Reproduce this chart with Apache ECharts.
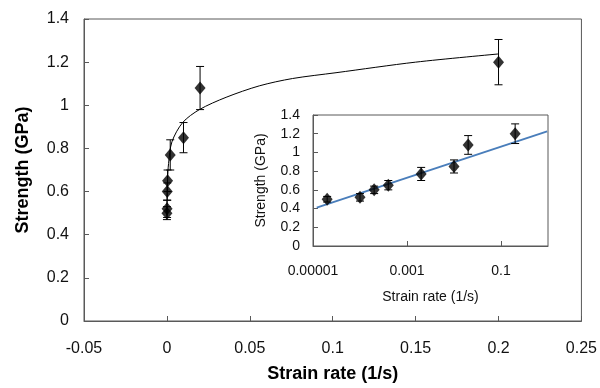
<!DOCTYPE html>
<html>
<head>
<meta charset="utf-8">
<script src="https://cdn.jsdelivr.net/npm/echarts@6/dist/echarts.min.js"></script>
<style>
  html, body { margin: 0; padding: 0; background: #fff; }
  #chart { width: 600px; height: 388px; }
</style>
</head>
<body>
<div id="chart"></div>
<script>
// measured points (strain rate in 1/s, strength in GPa)
const strainRate = [0.00002, 0.0001, 0.0002, 0.0004, 0.002, 0.01, 0.02, 0.2];
const strength = [0.50, 0.52, 0.60, 0.65, 0.77, 0.85, 1.08, 1.20];
const strengthErr = [0.03, 0.04, 0.04, 0.05, 0.07, 0.07, 0.10, 0.105];

// power-law trend curve
const curveX = [0.00002, 0.0001, 0.0004, 0.001, 0.003, 0.0095, 0.0196, 0.0357, 0.0557, 0.0757, 0.102, 0.15, 0.2];
const curveY = [0.49, 0.57, 0.66, 0.73, 0.83, 0.92, 0.98, 1.037, 1.09, 1.124, 1.151, 1.20, 1.238];

// log-linear fit line of the inset
const fitX = [0.000012, 0.96];
const fitY = [0.41, 1.225];

// inset x tick labels
const insetTickVals = [0.00001, 0.001, 0.1];
const insetTickLabels = ['0.00001', '0.001', '0.1'];

const FONT = '"Liberation Sans", Arial, sans-serif';
const lineCol = '#595959';

const pts = strainRate.map((x, i) => [x, strength[i]]);
const errPts = strainRate.map((x, i) => [x, strength[i], strengthErr[i]]);
const curve = curveX.map((x, i) => [x, curveY[i]]);
const fit = fitX.map((x, i) => [x, fitY[i]]);

const errorBar = (xIdx, yIdx, cap) => ({
  type: 'custom',
  xAxisIndex: xIdx,
  yAxisIndex: yIdx,
  silent: true,
  z: 3,
  renderItem: (params, api) => {
    const x = api.value(0), y = api.value(1), e = api.value(2);
    const top = api.coord([x, y + e]);
    const bot = api.coord([x, y - e]);
    const st = { stroke: '#000', lineWidth: 1 };
    return {
      type: 'group',
      children: [
        { type: 'line', shape: { x1: top[0], y1: top[1], x2: bot[0], y2: bot[1] }, style: st },
        { type: 'line', shape: { x1: top[0] - cap, y1: top[1], x2: top[0] + cap, y2: top[1] }, style: st },
        { type: 'line', shape: { x1: bot[0] - cap, y1: bot[1], x2: bot[0] + cap, y2: bot[1] }, style: st }
      ]
    };
  },
  data: errPts
});

const chart = echarts.init(document.getElementById('chart'));

chart.setOption({
  backgroundColor: '#fff',
  animation: false,
  textStyle: { fontFamily: FONT },
  grid: [
    { left: 84, top: 19, right: 18, bottom: 63, show: true, borderColor: lineCol, borderWidth: 1 },
    { left: 313, top: 115, right: 52, bottom: 142, show: true, borderColor: lineCol, borderWidth: 1, backgroundColor: '#fff', z: 5 }
  ],
  xAxis: [
    {
      gridIndex: 0,
      type: 'value',
      min: -0.05, max: 0.25, interval: 0.05,
      name: 'Strain rate (1/s)',
      nameLocation: 'middle',
      nameGap: 44,
      nameTextStyle: { fontSize: 18, fontWeight: 'bold', color: '#000', fontFamily: FONT },
      axisLine: { onZero: false, lineStyle: { color: lineCol } },
      axisTick: { inside: true, length: 5, lineStyle: { color: lineCol } },
      axisLabel: { fontSize: 16, color: '#111', margin: 20, fontFamily: FONT },
      splitLine: { show: false }
    },
    {
      gridIndex: 1,
      type: 'log',
      logBase: 10,
      min: 0.00001, max: 1,
      name: 'Strain rate (1/s)',
      nameLocation: 'middle',
      nameGap: 44,
      nameTextStyle: { fontSize: 14, color: '#111', fontFamily: FONT },
      axisLine: { onZero: false, lineStyle: { color: lineCol } },
      axisTick: { inside: true, length: 5, customValues: insetTickVals, lineStyle: { color: lineCol } },
      axisLabel: {
        fontSize: 14, color: '#111', margin: 18, fontFamily: FONT,
        customValues: insetTickVals,
        formatter: v => {
          const i = insetTickVals.findIndex(t => Math.abs(Math.log10(t) - Math.log10(v)) < 1e-6);
          return i >= 0 ? insetTickLabels[i] : '';
        }
      },
      splitLine: { show: false },
      minorTick: { show: false },
      z: 6
    }
  ],
  yAxis: [
    {
      gridIndex: 0,
      type: 'value',
      min: 0, max: 1.4, interval: 0.2,
      name: 'Strength (GPa)',
      nameLocation: 'middle',
      nameGap: 52,
      nameTextStyle: { fontSize: 18, fontWeight: 'bold', color: '#000', fontFamily: FONT },
      axisLine: { show: true, onZero: false, lineStyle: { color: lineCol } },
      axisTick: { show: true, inside: true, length: 5, lineStyle: { color: lineCol } },
      axisLabel: { fontSize: 16, color: '#111', margin: 15, fontFamily: FONT },
      splitLine: { show: false }
    },
    {
      gridIndex: 1,
      type: 'value',
      min: 0, max: 1.4, interval: 0.2,
      name: 'Strength (GPa)',
      nameLocation: 'middle',
      nameGap: 45,
      nameTextStyle: { fontSize: 14, color: '#111', fontFamily: FONT },
      axisLine: { show: true, onZero: false, lineStyle: { color: lineCol } },
      axisTick: { show: true, inside: true, length: 5, lineStyle: { color: lineCol } },
      axisLabel: { fontSize: 14, color: '#111', margin: 13, fontFamily: FONT },
      splitLine: { show: false },
      z: 6
    }
  ],
  series: [
    {
      type: 'line',
      xAxisIndex: 0, yAxisIndex: 0,
      data: curve,
      smooth: 0.3,
      showSymbol: false,
      lineStyle: { color: '#000', width: 1 },
      z: 2
    },
    errorBar(0, 0, 4),
    {
      type: 'scatter',
      xAxisIndex: 0, yAxisIndex: 0,
      symbol: 'diamond',
      symbolSize: [11, 13],
      itemStyle: { color: '#000' },
      data: pts,
      z: 4
    },
    {
      type: 'line',
      xAxisIndex: 1, yAxisIndex: 1,
      data: fit,
      showSymbol: false,
      lineStyle: { color: '#4a7ebb', width: 2 },
      z: 7
    },
    Object.assign(errorBar(1, 1, 4), { z: 8 }),
    {
      type: 'scatter',
      xAxisIndex: 1, yAxisIndex: 1,
      symbol: 'diamond',
      symbolSize: [11, 13],
      itemStyle: { color: '#000' },
      data: pts,
      z: 9
    }
  ]
});
</script>
</body>
</html>
